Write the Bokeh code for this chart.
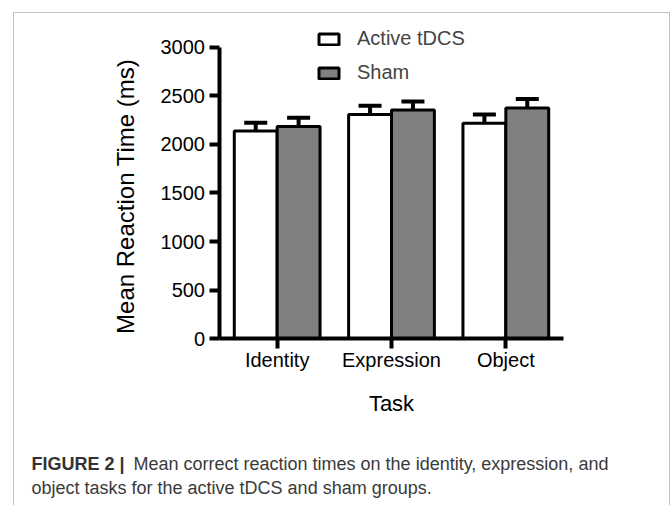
from bokeh.plotting import figure
from bokeh.models import (Range1d, ColumnDataSource, Whisker, TeeHead,
                          Legend, LegendItem, Label, BoxAnnotation, FixedTicker)
from bokeh.transform import dodge
from bokeh.embed import file_html
from bokeh.resources import INLINE

# ---- data ----
tasks = ["Identity", "Expression", "Object"]
series_names = ["Active tDCS", "Sham"]
active_mean = [2140, 2310, 2220]
sham_mean = [2185, 2355, 2375]
active_sem = [85, 90, 88]
sham_sem = [90, 88, 93]
y_ticks = [0, 500, 1000, 1500, 2000, 2500, 3000]
y_label = "Mean  Reaction Time (ms)"
x_label = "Task"
caption_bold = "FIGURE 2 |"
caption_line1 = "Mean correct reaction times on the identity, expression, and"
caption_line2 = "object tasks for the active tDCS and sham groups."

FONT = "Liberation Sans"

# category centres on a numeric axis (one unit per task)
xc = [i + 0.5 for i in range(len(tasks))]

src = ColumnDataSource(dict(
    xc=xc,
    active=active_mean,
    sham=sham_mean,
    active_hi=[m + e for m, e in zip(active_mean, active_sem)],
    sham_hi=[m + e for m, e in zip(sham_mean, sham_sem)],
))

W, H = 672, 505
p = figure(x_range=Range1d(-1.9198, 3.9577), y_range=Range1d(-1721.6, 3484.5),
           width=W, height=H, output_backend="svg", toolbar_location=None,
           min_border=0, min_border_left=0, min_border_right=0,
           min_border_top=0, min_border_bottom=0)

BW = 0.375
OFF = 0.1875
r_act = p.vbar(x=dodge("xc", -OFF), top="active", width=BW, bottom=0,
               source=src, fill_color="white", line_color="black", line_width=3)
r_sham = p.vbar(x=dodge("xc", OFF), top="sham", width=BW, bottom=0,
                source=src, fill_color="#808080", line_color="black", line_width=3)

for off, lo, hi in [(-OFF, "active", "active_hi"), (OFF, "sham", "sham_hi")]:
    w = Whisker(source=src, base=dodge("xc", off),
                lower=lo, upper=hi, dimension="height",
                upper_head=TeeHead(size=23, line_width=4, line_color="black"),
                lower_head=None, line_width=4, line_color="black", level="overlay")
    p.add_layout(w)

# axes
for ax in (p.xaxis[0], p.yaxis[0]):
    ax.fixed_location = 0
    ax.axis_line_width = 4
    ax.axis_line_color = "black"
    ax.major_tick_line_width = 4
    ax.major_tick_line_color = "black"
    ax.major_tick_out = 10
    ax.major_tick_in = 0
    ax.minor_tick_out = 0
    ax.minor_tick_in = 0
    ax.major_label_text_font = FONT
    ax.major_label_text_font_size = "20px"
    ax.major_label_text_color = "black"
    ax.axis_label_text_font = FONT
    ax.axis_label_text_font_style = "normal"
    ax.axis_label_text_color = "black"

p.yaxis.bounds = (0, 3000)
p.yaxis.ticker = FixedTicker(ticks=y_ticks)
p.yaxis.major_label_standoff = 5
p.yaxis.axis_label = y_label
p.yaxis.axis_label_text_font_size = "24px"
p.yaxis.axis_label_standoff = 18

p.xaxis.bounds = (0, len(tasks))
p.xaxis.ticker = FixedTicker(ticks=xc)
p.xaxis.major_label_overrides = {x: t for x, t in zip(xc, tasks)}
p.xaxis.major_label_standoff = 0
p.xaxis.axis_label = x_label
p.xaxis.axis_label_text_font_size = "22px"
p.xaxis.axis_label_standoff = 17

p.xgrid.visible = False
p.ygrid.visible = False
p.outline_line_color = None

legend = Legend(items=[LegendItem(label=series_names[0], renderers=[r_act]),
                       LegendItem(label=series_names[1], renderers=[r_sham])],
                location=(316, 421), glyph_width=25, glyph_height=14,
                label_standoff=16, spacing=11, padding=0, margin=0,
                label_height=20, border_line_color=None, background_fill_alpha=0,
                label_text_font=FONT, label_text_font_size="20px")
p.add_layout(legend)

# outer panel frame (open at the bottom)
p.add_layout(BoxAnnotation(left=13, right=669, top=493, bottom=-20,
                           left_units="screen", right_units="screen",
                           top_units="screen", bottom_units="screen",
                           fill_alpha=0, line_color="#333333", line_width=1,
                           level="overlay"))

# caption
p.add_layout(Label(x=31, y=42, x_units="screen", y_units="screen",
                   text=caption_bold, text_font=FONT, text_font_size="18px",
                   text_font_style="bold", text_color="#333333",
                   text_baseline="middle"))
p.add_layout(Label(x=133, y=42, x_units="screen", y_units="screen",
                   text=caption_line1, text_font=FONT, text_font_size="18px",
                   text_color="#3a3a3a", text_baseline="middle"))
p.add_layout(Label(x=31, y=18, x_units="screen", y_units="screen",
                   text=caption_line2, text_font=FONT, text_font_size="18px",
                   text_color="#3a3a3a", text_baseline="middle"))

open("out.html", "w").write(file_html(p, INLINE))
